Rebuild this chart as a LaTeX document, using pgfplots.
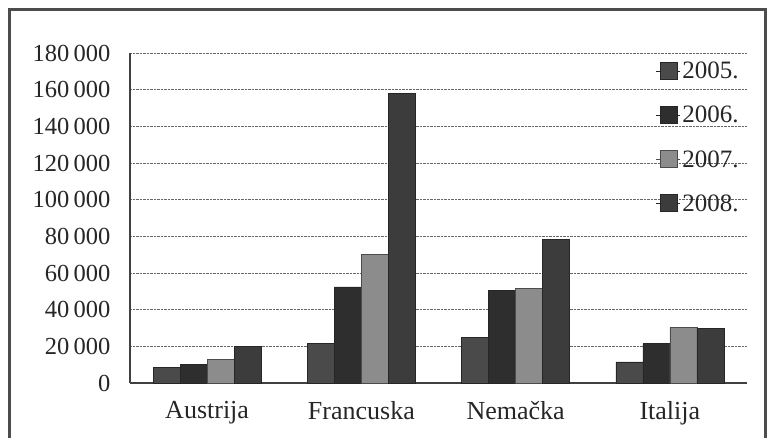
\documentclass[border=0pt]{standalone}
\usepackage{fontspec}
\setmainfont{Liberation Serif}
\usepackage{pgfplots}
\pgfplotsset{compat=1.18}
\definecolor{cA}{HTML}{4A4A4A}
\definecolor{cB}{HTML}{2E2E2E}
\definecolor{cC}{HTML}{8C8C8C}
\definecolor{cD}{HTML}{3C3C3C}
\begin{document}
\begin{tikzpicture}[x=1pt,y=1pt]
\useasboundingbox (0,0) rectangle (768,437);
\draw[line width=3pt, color=black!70] (9,-20) rectangle (765,427);
\begin{axis}[
  at={(130pt,54pt)}, anchor=south west, scale only axis,
  width=617pt, height=330pt,
  ymin=0, ymax=180000, ytick={0,20000,40000,60000,80000,100000,120000,140000,160000,180000},
  yticklabels={0,20\,000,40\,000,60\,000,80\,000,100\,000,120\,000,140\,000,160\,000,180\,000},
  xmin=-0.5, xmax=3.5, xtick={0,1,2,3},
  xticklabels={Austrija,Francuska,Nemačka,Italija},
  ybar=0pt, bar width=27pt,
  axis x line=bottom, axis y line=left,
  axis line style={-, line width=1.2pt, black!75},
  ymajorgrids, grid style={densely dotted, black!60, line width=0.8pt},
  scaled y ticks=false,
  tick label style={text=black!85},
  yticklabel style={font=\fontsize{24.5}{26}\selectfont, xshift=-14pt},
  xticklabel style={font=\fontsize{26}{28}\selectfont, yshift=-13pt},
  xtick style={draw=none}, ytick style={draw=none},
  legend style={at={(0.995,0.985)}, anchor=north east, draw=none, fill=none,
    font=\fontsize{25}{27}\selectfont, text=black!85, row sep=22pt},
  legend cell align=left,
  legend image code/.code={\path (0pt,0pt) -- (24pt,0pt); \fill[#1] (4pt,-8pt) rectangle (21pt,9pt);},
]
\addplot[fill=cA, draw=black!85] coordinates {(0,8500) (1,21500) (2,25000) (3,11500)};
\addplot[fill=cB, draw=black!85] coordinates {(0,10000) (1,52500) (2,50500) (3,21500)};
\addplot[fill=cC, draw=black!70] coordinates {(0,13000) (1,70000) (2,51500) (3,30500)};
\addplot[fill=cD, draw=black!85] coordinates {(0,20000) (1,158000) (2,78500) (3,30000)};
\legend{2005.,2006.,2007.,2008.}
\end{axis}
\end{tikzpicture}
\end{document}
